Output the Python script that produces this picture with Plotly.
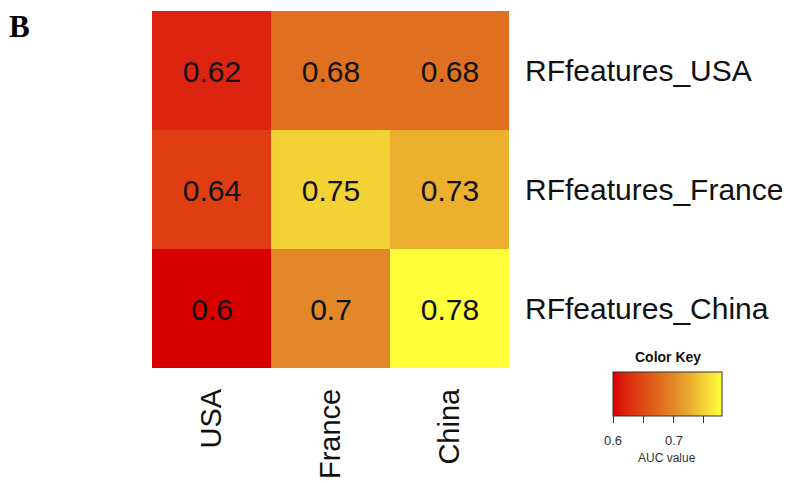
import plotly.graph_objects as go

columns = ["USA", "France", "China"]
rows = ["RFfeatures_USA", "RFfeatures_France", "RFfeatures_China"]
auc = [
    [0.62, 0.68, 0.68],
    [0.64, 0.75, 0.73],
    [0.60, 0.70, 0.78],
]
cell_text = [
    ["0.62", "0.68", "0.68"],
    ["0.64", "0.75", "0.73"],
    ["0.6", "0.7", "0.78"],
]
key_ticks = [0.6, 0.65, 0.7, 0.75]
key_tick_labels = ["0.6", "", "0.7", ""]

zmin, zmax = 0.6, 0.78
colorscale = [
    [0.0, "#d90000"],
    [0.111, "#dc2410"],
    [0.222, "#df3e12"],
    [0.444, "#e0701f"],
    [0.556, "#e3882a"],
    [0.722, "#ebb12e"],
    [0.833, "#f3d235"],
    [1.0, "#ffff3a"],
]

OFF = 8  # page body margin
W, H = 795 - OFF, 483 - OFF
L, R, T, B = 152 - OFF, 509 - OFF, 11 - OFF, 368 - OFF
PW, PH = R - L, B - T


def px(xs):
    return (xs - OFF - L) / PW


def py(ys):
    return (B - (ys - OFF)) / PH


FONT = "Liberation Sans, Arial, sans-serif"

CB_LEFT, CB_LEN = 613, 109

fig = go.Figure(
    go.Heatmap(
        z=auc,
        x=columns,
        y=rows,
        text=cell_text,
        texttemplate="%{text}",
        textfont=dict(family=FONT, size=30, color="#111111"),
        colorscale=colorscale,
        zmin=zmin,
        zmax=zmax,
        xgap=0,
        ygap=0,
        colorbar=dict(
            orientation="h",
            x=px(CB_LEFT),
            xanchor="left",
            y=py(372),
            yanchor="top",
            len=CB_LEN,
            lenmode="pixels",
            thickness=44,
            thicknessmode="pixels",
            xpad=0,
            ypad=0,
            outlinewidth=1,
            outlinecolor="#333333",
            ticks="outside",
            ticklen=7,
            tickwidth=1,
            tickcolor="#333333",
            tickvals=key_ticks,
            ticktext=key_tick_labels,
            showticklabels=False,
            title=dict(text=""),
        ),
    )
)

annotations = [
    dict(
        text="<b>B</b>",
        xref="paper", yref="paper",
        x=px(OFF), y=py(OFF),
        xanchor="left", yanchor="top",
        borderpad=0,
        showarrow=False,
        font=dict(family="Liberation Serif, Times New Roman, serif", size=31, color="#000000"),
    ),
    dict(
        text="<b>Color Key</b>",
        xref="paper", yref="paper",
        x=px(668), y=py(357),
        xanchor="center", yanchor="middle",
        showarrow=False,
        font=dict(family=FONT, size=14, color="#111111"),
    ),
    dict(
        text="AUC value",
        xref="paper", yref="paper",
        x=px(667), y=py(458),
        xanchor="center", yanchor="middle",
        showarrow=False,
        font=dict(family=FONT, size=12, color="#333333"),
    ),
]
for v, lab in zip(key_ticks, key_tick_labels):
    if not lab:
        continue
    xs = CB_LEFT + (v - zmin) / (zmax - zmin) * CB_LEN
    annotations.append(
        dict(
            text=lab,
            xref="paper", yref="paper",
            x=px(xs), y=py(440),
            xanchor="center", yanchor="middle",
            showarrow=False,
            font=dict(family=FONT, size=13, color="#333333"),
        )
    )

fig.update_layout(
    width=W,
    height=H,
    margin=dict(l=L, r=W - R, t=T, b=H - B, autoexpand=False),
    paper_bgcolor="white",
    plot_bgcolor="white",
    xaxis=dict(
        tickangle=-90,
        tickfont=dict(family=FONT, size=29, color="#111111"),
        showgrid=False,
        zeroline=False,
        showline=False,
        ticks="",
        ticklabelstandoff=14,
        automargin=False,
        fixedrange=True,
    ),
    yaxis=dict(
        side="right",
        autorange="reversed",
        tickfont=dict(family=FONT, size=30, color="#111111"),
        showgrid=False,
        zeroline=False,
        showline=False,
        ticks="",
        ticklabelstandoff=15,
        automargin=False,
        fixedrange=True,
    ),
    annotations=annotations,
)

fig.write_html("out.html")
